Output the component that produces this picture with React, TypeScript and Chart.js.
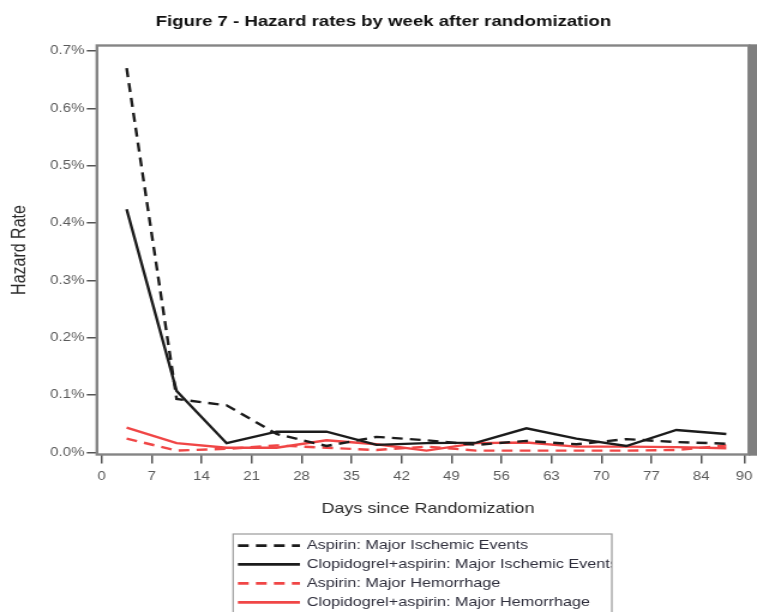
import { useEffect, useRef } from 'react';
import { Chart, registerables } from 'chart.js';

Chart.register(...registerables);

// Week midpoints (days since randomization)
const DAYS = [3.5, 10.5, 17.5, 24.5, 31.5, 38.5, 45.5, 52.5, 59.5, 66.5, 73.5, 80.5, 87.5];

// Weekly hazard rates, in percent
const ASPIRIN_ISCHEMIC = [0.67, 0.093, 0.082, 0.032, 0.011, 0.027, 0.021, 0.013, 0.02, 0.014, 0.023, 0.018, 0.015];
const CLOPI_ISCHEMIC = [0.424, 0.107, 0.016, 0.036, 0.036, 0.013, 0.016, 0.017, 0.042, 0.024, 0.011, 0.039, 0.032];
const ASPIRIN_HEMORRHAGE = [0.024, 0.003, 0.006, 0.012, 0.008, 0.004, 0.01, 0.003, 0.003, 0.003, 0.003, 0.004, 0.012];
const CLOPI_HEMORRHAGE = [0.043, 0.016, 0.008, 0.008, 0.021, 0.014, 0.003, 0.016, 0.017, 0.01, 0.01, 0.009, 0.007];

const SERIES_LABELS = [
  'Aspirin: Major Ischemic Events',
  'Clopidogrel+aspirin: Major Ischemic Events',
  'Aspirin: Major Hemorrhage',
  'Clopidogrel+aspirin: Major Hemorrhage',
];

const X_TICKS = [0, 7, 14, 21, 28, 35, 42, 49, 56, 63, 70, 77, 84, 90];
const Y_TICKS = [0, 0.1, 0.2, 0.3, 0.4, 0.5, 0.6, 0.7];

const TITLE = 'Figure 7 - Hazard rates by week after randomization';
const X_TITLE = 'Days since Randomization';
const Y_TITLE = 'Hazard Rate';

// Drawing surface; the figure is laid out narrow and widened horizontally.
const W = 631;
const H = 612;
const STRETCH = 757 / W;

const FONT = "'Liberation Sans', Arial, sans-serif";
const BLACK = '#1c1c1c';
const RED = '#f04646';
const DASH = [9, 6];

const AREA = { left: 80.8, top: 45.5, right: 624.2, bottom: 454.5 };

const toPoints = (vals: number[]) => DAYS.map((d, i) => ({ x: d, y: vals[i] }));

const decor = {
  id: 'figureDecor',
  beforeDatasetsDraw(chart: any) {
    const { ctx, chartArea: a } = chart;
    ctx.save();
    ctx.strokeStyle = '#858585';
    ctx.lineWidth = 2.4;
    ctx.strokeRect(a.left, a.top, a.right - a.left, a.bottom - a.top);
    // heavy right edge
    ctx.fillStyle = '#7f7f7f';
    ctx.fillRect(a.right, a.top - 1.2, W - a.right, a.bottom - a.top + 2.4);
    ctx.restore();
  },
  afterDraw(chart: any) {
    const { ctx, chartArea: a } = chart;
    ctx.save();
    // main title
    ctx.fillStyle = '#111';
    ctx.font = `bold 15.5px ${FONT}`;
    ctx.textAlign = 'center';
    ctx.textBaseline = 'middle';
    ctx.fillText(TITLE, 319.6, 22);

    // axis titles
    ctx.fillStyle = '#2a2a2a';
    ctx.font = `15px ${FONT}`;
    ctx.fillText(X_TITLE, 356.7, 508.5);
    ctx.save();
    ctx.translate(16.7, (a.top + a.bottom) / 2);
    ctx.rotate(-Math.PI / 2);
    ctx.font = `16px ${FONT}`;
    ctx.fillText(Y_TITLE, 0, 0);
    ctx.restore();

    // legend box, cut at its right edge
    const box = { left: 194.3, top: 534, right: 510, bottom: H + 10 };
    ctx.strokeStyle = '#9a9a9a';
    ctx.lineWidth = 1.2;
    ctx.strokeRect(box.left, box.top, box.right - box.left, box.bottom - box.top);
    ctx.beginPath();
    ctx.rect(box.left, box.top, box.right - box.left - 0.6, box.bottom - box.top);
    ctx.clip();
    const rows = [545.7, 564.3, 583.3, 602.3];
    chart.data.datasets.forEach((ds: any, i: number) => {
      const y = rows[i];
      ctx.strokeStyle = ds.borderColor;
      ctx.lineWidth = 2.8;
      ctx.setLineDash(ds.borderDash || []);
      ctx.beginPath();
      ctx.moveTo(198.3, y);
      ctx.lineTo(250, y);
      ctx.stroke();
      ctx.setLineDash([]);
      ctx.fillStyle = '#2e2e3c';
      ctx.font = `13.5px ${FONT}`;
      ctx.textAlign = 'left';
      ctx.textBaseline = 'middle';
      ctx.fillText(ds.label, 255.8, y);
    });
    ctx.restore();
  },
};

export default function App() {
  const ref = useRef<HTMLCanvasElement>(null);

  useEffect(() => {
    if (!ref.current) return;
    const line = (label: string, vals: number[], color: string, dashed: boolean) => ({
      label,
      data: toPoints(vals),
      borderColor: color,
      backgroundColor: color,
      borderWidth: 2.4,
      borderDash: dashed ? DASH : [],
      pointRadius: 0,
      tension: 0,
      fill: false,
    });

    const tickFont = { family: FONT, size: 12.5 };

    const chart = new Chart(ref.current, {
      type: 'line',
      data: {
        datasets: [
          line(SERIES_LABELS[0], ASPIRIN_ISCHEMIC, BLACK, true),
          line(SERIES_LABELS[1], CLOPI_ISCHEMIC, BLACK, false),
          line(SERIES_LABELS[2], ASPIRIN_HEMORRHAGE, RED, true),
          line(SERIES_LABELS[3], CLOPI_HEMORRHAGE, RED, false),
        ],
      },
      options: {
        responsive: false,
        animation: false,
        devicePixelRatio: 1,
        layout: { padding: { left: 0, top: AREA.top, right: W - AREA.right, bottom: 0 } },
        plugins: {
          legend: { display: false },
          title: { display: false },
          tooltip: { enabled: false },
        },
        scales: {
          x: {
            type: 'linear',
            min: -0.66,
            max: 90.66,
            afterBuildTicks: (s: any) => {
              s.ticks = X_TICKS.map((v) => ({ value: v }));
            },
            afterFit: (s: any) => {
              s.height = H - AREA.bottom;
              s.paddingLeft = 0;
              s.paddingRight = 0;
            },
            border: { display: false },
            grid: { drawOnChartArea: false, drawTicks: true, tickLength: 9, color: '#555', lineWidth: 1.5 },
            ticks: {
              autoSkip: false,
              maxRotation: 0,
              padding: 6,
              color: '#5a5a5a',
              font: tickFont,
              callback: (v: any) => String(v),
            },
          },
          y: {
            type: 'linear',
            min: -0.0038,
            max: 0.7096,
            afterBuildTicks: (s: any) => {
              s.ticks = Y_TICKS.map((v) => ({ value: v }));
            },
            afterFit: (s: any) => {
              s.width = AREA.left;
              s.paddingTop = 0;
              s.paddingBottom = 0;
            },
            border: { display: false },
            grid: { drawOnChartArea: false, drawTicks: true, tickLength: 8.5, color: '#555', lineWidth: 1.5 },
            ticks: {
              padding: 2,
              color: '#5a5a5a',
              font: tickFont,
              callback: (v: any) => `${Number(v).toFixed(1)}%`,
            },
          },
        },
      },
      plugins: [decor],
    } as any);

    return () => chart.destroy();
  }, []);

  return (
    <div
      style={{
        position: 'fixed',
        left: 0,
        top: 0,
        width: 757,
        height: 612,
        background: '#fff',
        overflow: 'hidden',
      }}
    >
      <div style={{ width: W, height: H, transform: `scaleX(${STRETCH})`, transformOrigin: '0 0' }}>
        <canvas ref={ref} width={W} height={H} style={{ display: 'block' }} />
      </div>
    </div>
  );
}
